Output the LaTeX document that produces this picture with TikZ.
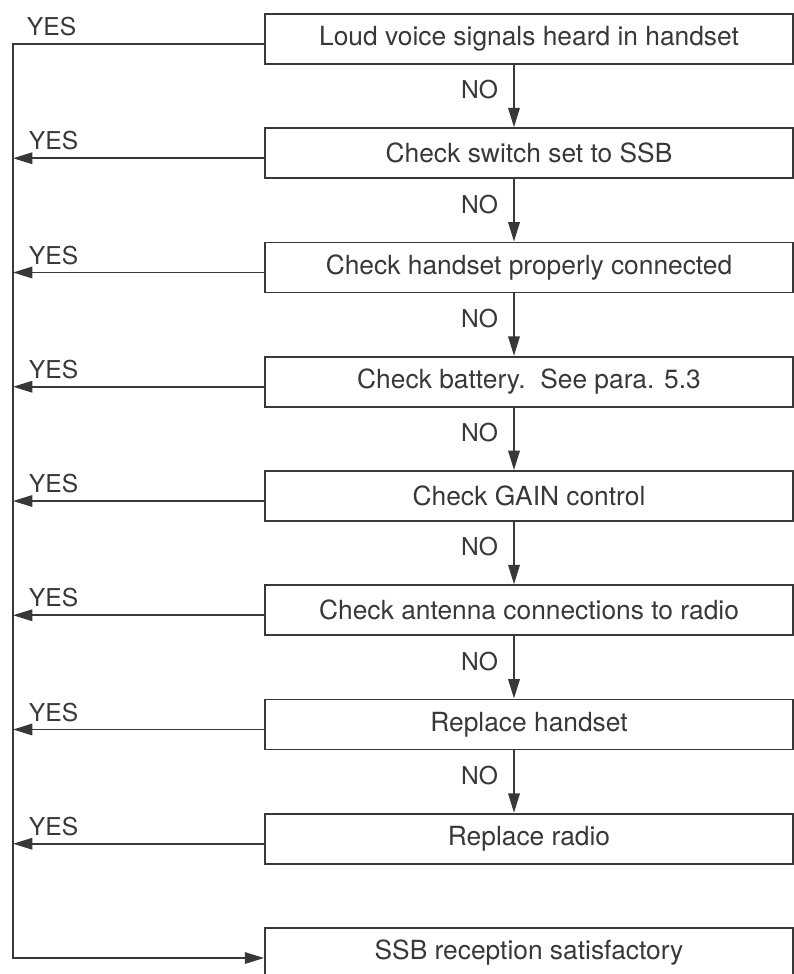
\documentclass[tikz,border=0pt]{standalone}
\usepackage{fontspec}
\setmainfont{TeX Gyre Heros}
\usetikzlibrary{arrows.meta,calc}
\definecolor{ink}{gray}{0.22}

\begin{document}
\begin{tikzpicture}[>={Triangle[length=11pt,width=6.5pt]}, x=0.02cm, y=-0.02cm, line width=1.1pt, color=ink,
  box/.style={draw, minimum width=10.56cm, minimum height=1cm, inner sep=0pt, font=\fontsize{15}{18}\selectfont},
  lbl/.style={inner sep=0pt, font=\fontsize{14}{16}\selectfont}]
\useasboundingbox (0,0) rectangle (794,974);
% boxes, top to bottom
\foreach \i/\t in {1/Loud voice signals heard in handset, 2/Check switch set to SSB, 3/Check handset properly connected, 4/Check battery.\ \ See para. 5.3, 5/Check GAIN control, 6/Check antenna connections to radio, 7/Replace handset, 8/Replace radio, 9/SSB reception satisfactory}
  \node[box] (b\i) at (529, {39+114.25*(\i-1)}) {\t};
% NO branches
\foreach \i [evaluate=\i as \j using int(\i+1)] in {1,...,7}
  \draw[->] ($(b\i.south)+(-15,0)$) -- ($(b\j.north)+(-15,0)$) node[lbl, pos=.4, left=0.3cm] (n\i) {NO};
% YES return line
\coordinate (sp) at (13,0);
\draw[->] ($(b1.west)+(0,5)$) -| ($(sp |- b9.west)+(0,5)$) -- ($(b9.west)+(0,5)$);
\node[lbl, anchor=south west] (y1) at ($(sp |- b1.west)+(13,-2)$) {YES};
\foreach \i in {2,...,8}
  \draw[->] ($(b\i.west)+(0,5)$) -- ($(sp |- b\i.west)+(0,5)$) node[lbl, at end, anchor=south west, xshift=0.3cm, yshift=0.14cm] (y\i) {YES};
\end{tikzpicture}
\end{document}
